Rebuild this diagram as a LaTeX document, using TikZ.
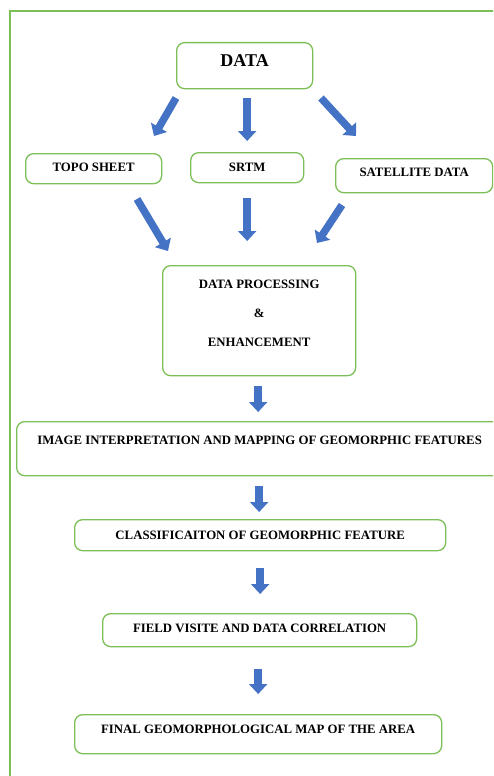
\documentclass[tikz,border=0pt]{standalone}
\usepackage{fontspec}
\setmainfont{Liberation Serif}
\usetikzlibrary{arrows.meta}
\definecolor{framegreen}{HTML}{7CBF56}
\definecolor{arrowblue}{HTML}{4472C4}
\begin{document}
\begin{tikzpicture}[x=1pt,y=-1pt,
  box/.style={draw=framegreen, line width=1.3pt, rounded corners=8pt, inner sep=0pt,
    anchor=north west, fill=white, font=\fontsize{12.8}{15}\selectfont\bfseries},
  barrow/.style={draw=arrowblue, line width=7.5pt, -{Triangle[width=18pt,length=10pt]}}]
\useasboundingbox (0,0) rectangle (493,776);
\clip (0,0) rectangle (493,776);
\fill[white] (0,0) rectangle (493,776);
\draw[framegreen, line width=1.3pt] (10,11) rectangle (510,800);

\node[box, minimum width=136pt, text height=24pt, text depth=22pt,
  font=\fontsize{18}{21}\selectfont\bfseries] (data) at (176,42) {DATA};
\node[box, minimum width=136pt, text height=18.2pt, text depth=11.8pt] (topo) at (25,153) {TOPO SHEET};
\node[box, minimum width=113pt, text height=19.2pt, text depth=10.8pt] (srtm) at (190,152) {SRTM};
\node[box, minimum width=157pt, text height=17.7pt, text depth=16.3pt] (sat) at (335,158) {SATELLITE DATA};
\node[box, minimum width=193pt, text height=81.2pt, text depth=28.8pt, align=center,
  font=\fontsize{12.8}{29}\selectfont\bfseries] (dp) at (162,265) {DATA PROCESSING\\\&\\ENHANCEMENT};
\node[box, minimum width=486pt, text height=23.2pt, text depth=30.8pt] (img) at (16,421) {IMAGE INTERPRETATION AND MAPPING OF GEOMORPHIC FEATURES};
\node[box, minimum width=371pt, text height=20.2pt, text depth=10.8pt] (class) at (74,519) {CLASSIFICAITON OF GEOMORPHIC FEATURE};
\node[box, minimum width=314pt, text height=18.9pt, text depth=14.1pt] (field) at (102,613) {FIELD VISITE AND DATA CORRELATION};
\node[box, minimum width=367pt, text height=18.5pt, text depth=20.5pt] (final) at (74,714) {FINAL GEOMORPHOLOGICAL MAP OF THE AREA};

% arrow end points for the slanted arrows
\coordinate (a1s) at (176,98);  \coordinate (a1e) at (154,136);
\coordinate (a3s) at (321,98);  \coordinate (a3e) at (356,136);
\coordinate (b1s) at (137,199); \coordinate (b1e) at (168,251);
\coordinate (b3s) at (342,205); \coordinate (b3e) at (317,243);

\draw[barrow] (a1s) -- (a1e);
\draw[barrow, shorten <=9pt, shorten >=11pt] (srtm.north |- data.south) -- (srtm.north);
\draw[barrow] (a3s) -- (a3e);
\draw[barrow] (b1s) -- (b1e);
\draw[barrow, shorten <=15pt, shorten >=24pt] (srtm.south) -- (srtm.south |- dp.north);
\draw[barrow] (b3s) -- (b3e);
\draw[barrow, shorten <=10pt, shorten >=9pt] ([xshift=-1pt]dp.south) -- ([xshift=-1pt]dp.south |- img.north);
\draw[barrow, shorten <=10pt, shorten >=7pt] ([xshift=-1pt]class.north |- img.south) -- ([xshift=-1pt]class.north);
\draw[barrow, shorten <=17pt, shorten >=19pt] (class.south) -- (class.south |- field.north);
\draw[barrow, shorten <=22pt, shorten >=20pt] (final.north |- field.south) -- (final.north);
\end{tikzpicture}
\end{document}
